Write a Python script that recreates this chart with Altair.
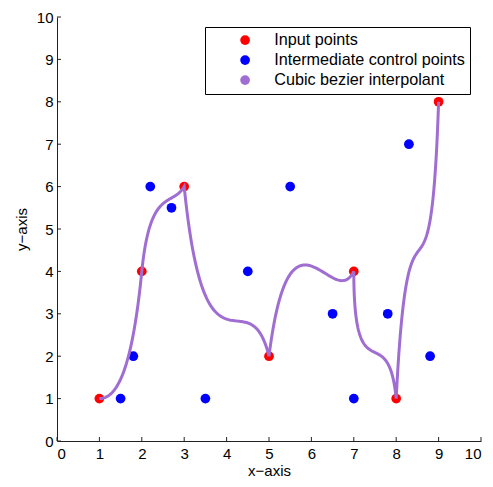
import altair as alt
import numpy as np
import pandas as pd

# Input points (red)
input_x = [1, 2, 3, 5, 7, 8, 9]
input_y = [1, 4, 6, 2, 4, 1, 8]

# Intermediate control points (blue), two per segment
ctrl_x = [1.5, 1.8, 2.2, 2.7, 3.5, 4.5, 5.5, 6.5, 7.0, 7.8, 8.3, 8.8]
ctrl_y = [1.0, 2.0, 6.0, 5.5, 1.0, 4.0, 6.0, 3.0, 1.0, 3.0, 7.0, 2.0]

labels = ["Input points", "Intermediate control points", "Cubic bezier interpolant"]
colors = ["#ff0000", "#0000ff", "#a06ed2"]
ticks = list(range(0, 11))

W = 424
H = 424

pts = pd.DataFrame({
    "x": input_x + ctrl_x,
    "y": input_y + ctrl_y,
    "series": [labels[0]] * len(input_x) + [labels[1]] * len(ctrl_x),
})

# Cubic Bezier curve built from input + control points
t = np.linspace(0, 1, 80)
cx, cy = [], []
for i in range(len(input_x) - 1):
    p0 = np.array([input_x[i], input_y[i]])
    p1 = np.array([ctrl_x[2 * i], ctrl_y[2 * i]])
    p2 = np.array([ctrl_x[2 * i + 1], ctrl_y[2 * i + 1]])
    p3 = np.array([input_x[i + 1], input_y[i + 1]])
    for tt in t:
        b = ((1 - tt) ** 3) * p0 + 3 * ((1 - tt) ** 2) * tt * p1 + 3 * (1 - tt) * tt ** 2 * p2 + tt ** 3 * p3
        cx.append(b[0]); cy.append(b[1])
curve = pd.DataFrame({"x": cx, "y": cy, "order": range(len(cx))})
tick_df = pd.DataFrame({"v": ticks})

font = "Liberation Sans"
xscale = alt.Scale(domain=[0, 10], nice=False)
yscale = alt.Scale(domain=[0, 10], nice=False)

xaxis = alt.Axis(values=ticks, title="x\u2212axis", grid=False, ticks=False, labelPadding=5)
yaxis = alt.Axis(values=ticks, title="y\u2212axis", grid=False, ticks=False, labelPadding=4)

points = alt.Chart(pts).mark_circle(size=95, opacity=1).encode(
    x=alt.X("x:Q", scale=xscale, axis=xaxis),
    y=alt.Y("y:Q", scale=yscale, axis=yaxis),
    color=alt.Color("series:N", scale=alt.Scale(domain=labels, range=colors),
                    legend=alt.Legend(title=None, orient="none", legendX=148, legendY=10,
                                      strokeColor="black", fillColor="white", padding=5,
                                      symbolOffset=27, labelOffset=21, rowPadding=3,
                                      symbolType="circle", symbolSize=95, labelFontSize=16.2,
                                      labelFont=font, labelColor="black", labelLimit=400)),
)

line = alt.Chart(curve).mark_line(strokeWidth=3, color="#a06ed2").encode(
    x=alt.X("x:Q", scale=xscale),
    y=alt.Y("y:Q", scale=yscale),
    order="order:Q",
)

xticks = alt.Chart(tick_df).mark_rule(color="#222222", strokeWidth=1).encode(
    x=alt.X("v:Q", scale=xscale),
    y=alt.value(H),
    y2=alt.value(H - 4),
)
yticks = alt.Chart(tick_df).mark_rule(color="#222222", strokeWidth=1).encode(
    y=alt.Y("v:Q", scale=yscale),
    x=alt.value(0),
    x2=alt.value(4),
)

chart = alt.layer(xticks, yticks, points, line).properties(
    width=W, height=H,
    autosize=alt.AutoSizeParams(type="none"),
    padding={"left": 57, "top": 17, "right": 12, "bottom": 46},
).configure_view(stroke=None).configure_axis(
    labelFont=font, titleFont=font, labelFontSize=15, titleFontSize=15,
    titleFontWeight="normal", labelColor="black", titleColor="black",
    domainColor="#222222",
).configure_axisX(titlePadding=2).configure_axisY(titlePadding=7)

chart.save("out.html", embed_options={"renderer": "svg", "actions": False})
